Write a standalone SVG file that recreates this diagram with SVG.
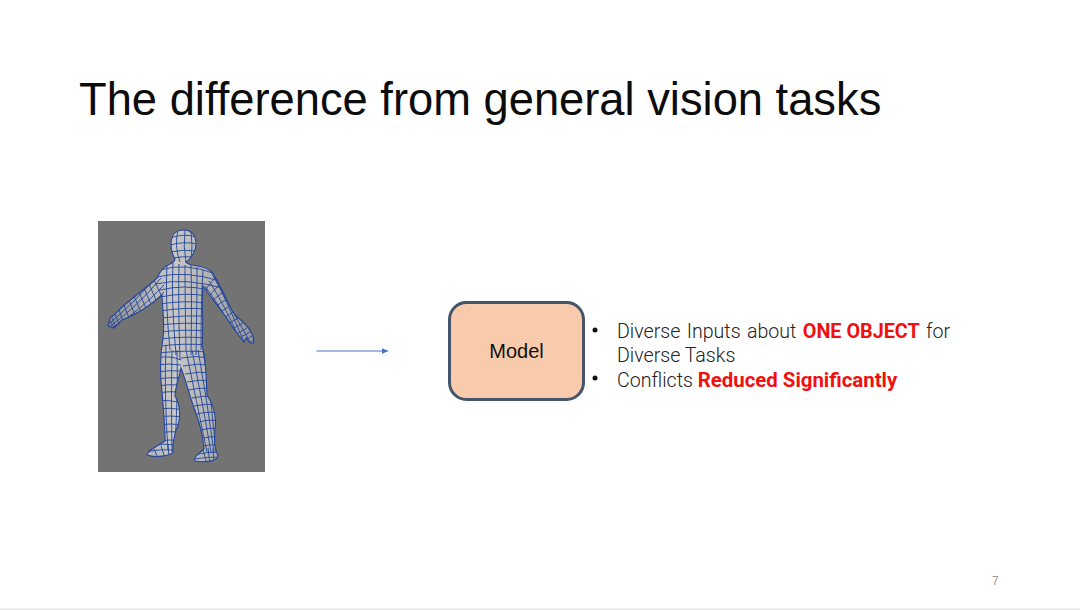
<svg xmlns="http://www.w3.org/2000/svg" width="1080" height="610" viewBox="0 0 1080 610">
<style>
.title{font-family:"Liberation Sans",Arial,sans-serif;font-size:45.3px;fill:#0c0c0c}
.body{font-family:Roboto,"Noto Sans",sans-serif;font-weight:300;font-size:19.6px;fill:#222}
.em{font-weight:700;fill:#f01010;font-size:19.8px}
.em2{font-weight:700;fill:#f01010;font-size:20.4px}
.sans{font-family:"Liberation Sans",Arial,sans-serif}
.mesh{fill:none;stroke:#23459a;stroke-width:.9}
.sk{fill:url(#skin);stroke:#23459a;stroke-width:1.1}
</style>
<defs>
<marker id="arr" markerWidth="7" markerHeight="6" refX="6" refY="3" orient="auto" markerUnits="userSpaceOnUse"><path d="M0 0L7 3L0 6Z" fill="#4472c4"/></marker>
<linearGradient id="skin" x1="0" y1="0" x2="1" y2="0"><stop offset="0" stop-color="#8f8f92"/><stop offset=".45" stop-color="#c8c8c8"/><stop offset="1" stop-color="#969698"/></linearGradient>
<path id="bodyShape" d="M171 244C171 235 176 230 184 230C192 230 196 236 196 244C196 251 191 259 186 262C187 264 189 264 192 265C201 266 209 268 213 273C218 282 222 290 226 298C229 306 232 310 234 314L245 324C250 329 254 336 254 343L250 343L246 338L244 342L240 337L234 329C226 316 213 300 203 286C201 302 204 322 202 345C207 362 206 382 207 395C213 404 217 416 215 430C214 440 215 450 218 456C217 461 205 463 195 461C193 458 198 454 204 449C203 432 198 418 193 405C188 390 185 378 181 368C179 378 175 388 175 396C181 406 181 420 176 430C174 438 172 445 173 452C170 456 155 458 147 455C146 451 156 447 165 441C165 425 163 405 162 392C160 375 160 355 163 338C165 322 162 306 162 295C150 306 135 315 122 320L114 328L108 326L110 318L116 313C128 300 145 290 157 278C160 271 165 266 170 264C174 262 175 261 175 259C172 254 171 250 171 244Z"/>
<clipPath id="sil"><use href="#bodyShape"/></clipPath>
<filter id="soft"><feGaussianBlur stdDeviation=".4"/></filter>
</defs>
<rect width="1080" height="610" fill="#ffffff"/>
<rect x="0" y="608.500" width="1080" height="1.500" fill="#e4e4e4"/>
<text class="title" x="79" y="115">The difference from general vision tasks</text>
<g id="figure">
<rect x="98" y="221" width="167" height="251" fill="#737373"/>
<g filter="url(#soft)">
<use href="#bodyShape" class="sk"/>
<g clip-path="url(#sil)" class="mesh">
<path d="M170 238Q184 233 197 237M170 245Q184 241 197 244M170 252Q184 249 197 251M172 258Q184 256 194 257M178 230Q174 246 180 262M185 230Q183 246 186 263M191 232Q193 246 191 260"/>
<path d="M160 270Q185 262 216 274M157 277Q185 270 220 281M156 284Q185 277 226 289M160 290Q185 284 208 290M160 297Q185 292 208 296M160 304Q185 300 206 303M160 311Q185 307 206 309M160 318Q185 315 206 316M160 325Q185 322 206 324M160 332Q185 329 206 331M160 339Q185 336 206 338M160 346Q185 343 206 345M158 353Q185 350 208 352"/>
<path d="M167 264Q165 300 170 350M173 262Q171 300 176 355M179 264Q178 300 180 360M185 265Q185 300 186 350M191 265Q192 300 191 355M197 267Q197 300 196 355M203 270Q201 300 201 350"/>
<path d="M106 326Q135 303 160 272M109 327Q137 307 161 278M112 328Q140 311 164 285M116 326Q145 315 164 292M154 280L162 297M149 284L156 300M144 288L151 304M139 292L146 308M134 296L141 312M129 300L135 315M124 305L129 318M119 310L123 321M115 314L119 324M112 318L116 327M110 321L115 329"/>
<path d="M210 270Q224 296 250 342M214 276Q228 304 244 342M209 281Q224 304 240 340M205 286Q220 306 236 336M215 278L205 290M219 285L209 296M223 292L212 301M227 299L216 306M230 306L220 312M233 312L224 318M238 318L228 324M243 323L232 329M247 328L235 335M250 332L239 338M252 336L243 342M254 340L247 344"/>
<path d="M155 358Q170 355 181 360M155 365Q170 363 181 365M155 372Q170 370 181 371M155 379Q170 377 181 378M155 386Q170 384 181 385M155 393Q170 391 181 392M155 401Q170 399 185 404M155 409Q170 407 185 410M155 417Q170 415 185 417M155 425Q170 423 185 425M155 433Q170 431 185 432M155 441Q170 439 185 441M145 447Q165 442 178 446M145 452Q165 448 178 451M166 345Q164 395 168 450M172 350Q171 395 172 452M177 350Q178 395 175 445M154 449L158 458M161 446L165 458M168 444L169 458"/>
<path d="M181 358Q195 355 210 358M183 366Q197 363 210 365M185 374Q199 371 212 373M187 382Q200 379 212 381M189 390Q202 387 212 389M192 398Q204 395 214 397M194 406Q207 403 218 405M197 414Q209 411 218 413M199 422Q210 419 218 421M201 430Q210 427 218 429M203 438Q212 436 218 437M203 446Q212 444 220 445M194 455Q206 452 220 452M194 459Q206 457 220 457M186 350Q196 400 207 452M192 350Q202 400 211 452M198 350Q207 400 214 452M203 350Q212 400 216 452M203 450L207 464M208 448L210 464M213 448L214 464"/>
</g>
</g>
</g>
<g id="connectors">
<line x1="316.500" y1="351" x2="387.500" y2="351" stroke="#4472c4" stroke-width="1" marker-end="url(#arr)"/>
</g>
<g id="model">
<rect x="449.500" y="302.500" width="134" height="97" rx="17" fill="#f7cbac" stroke="#44546a" stroke-width="3"/>
<text class="sans" x="516.500" y="358" font-size="20" fill="#111" text-anchor="middle">Model</text>
</g>
<g id="notes" class="body">
<circle cx="595" cy="330" r="2.500" fill="#111"/>
<circle cx="595" cy="378" r="2.500" fill="#111"/>
<text x="617" y="338" word-spacing="1.6">Diverse Inputs about <tspan class="em" word-spacing="0">ONE OBJECT</tspan> for</text>
<text x="617" y="362">Diverse Tasks</text>
<text x="617" y="387">Conflicts <tspan class="em2">Reduced Significantly</tspan></text>
</g>
<text id="page" x="992" y="585" font-family="Liberation Sans,Arial,sans-serif" font-size="12" fill="#9a9a9a">7</text>
</svg>
